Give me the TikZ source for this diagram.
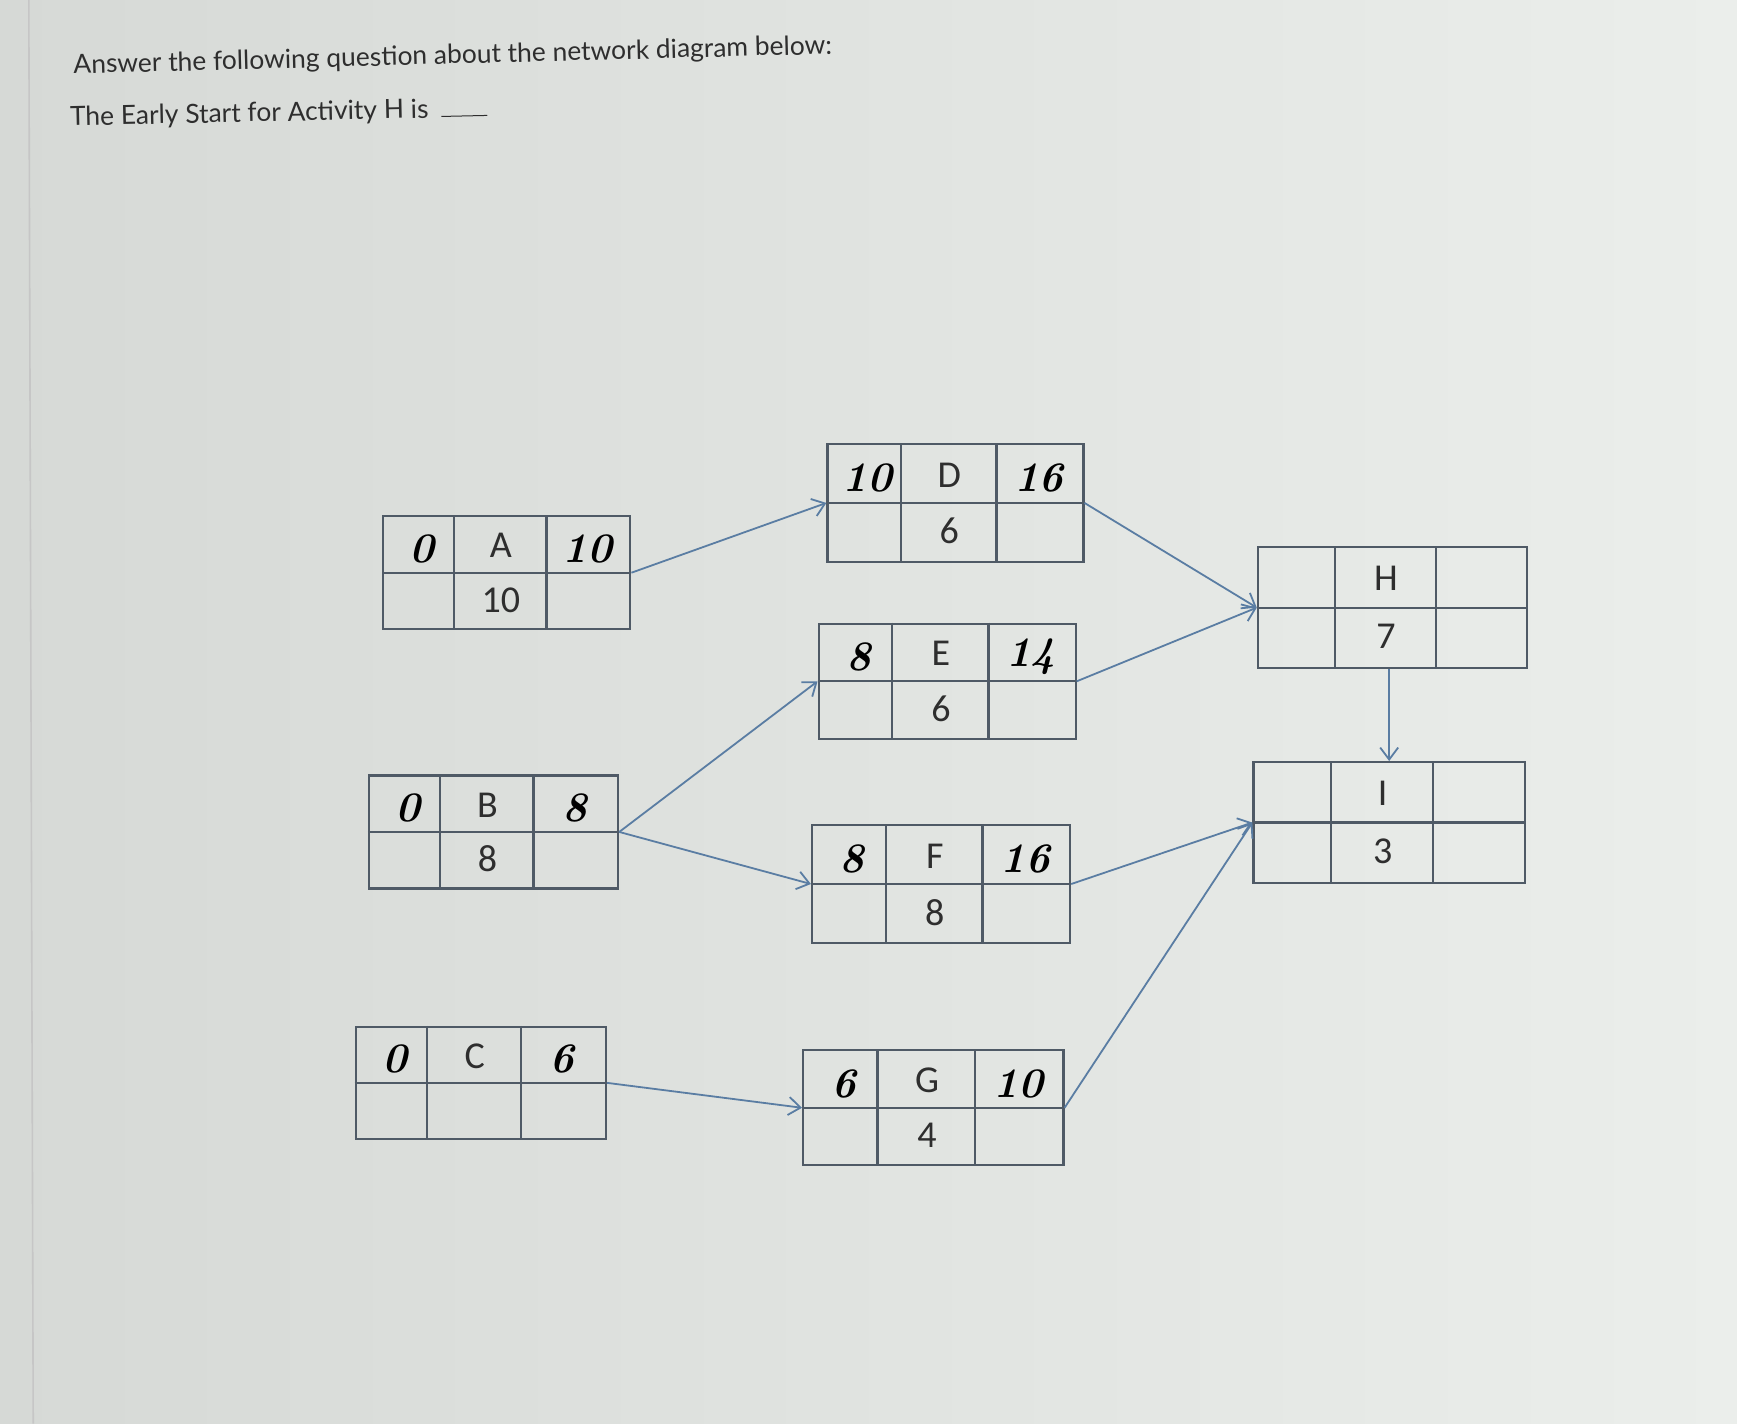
\documentclass[tikz,border=0pt]{standalone}
\usepackage{fontspec}
\newfontfamily\qfont{Lato}
\newfontfamily\bfnt{Carlito}
\usetikzlibrary{arrows.meta,calc}
\definecolor{bgL}{HTML}{D6D9D6}
\definecolor{bgR}{HTML}{EBEEEB}
\definecolor{boxc}{HTML}{4F5A66}
\definecolor{arrc}{HTML}{5A7DA3}
\definecolor{txtc}{HTML}{2E2E2E}
\tikzset{
 actnode/.style={draw=boxc, line width=1.1pt, inner sep=0pt, rectangle},
 divline/.style={draw=boxc, line width=1.1pt},
 celltext/.style={font=\bfnt\fontsize{19}{22}\selectfont, text=txtc, inner sep=0pt},
 handtext/.style={font=\normalfont\bfseries\itshape\fontsize{21}{24}\selectfont, text=black, inner sep=0pt},
 link/.style={draw=arrc, line width=0.9pt, -{Straight Barb[length=6pt,width=9pt]}},
 qtext/.style={font=\qfont\fontsize{13.2}{16}\selectfont, text=txtc, anchor=west, inner sep=0pt}
}
% #1 name, #2 cx, #3 cy, #4 w, #5 h, #6 ES, #7 letter, #8 EF, #9 duration
\newcommand\actbox[9]{%
 \node[actnode, minimum width={#4*0.554pt}, minimum height={#5*0.554pt}] (#1) at (#2,#3) {};
 \draw[divline] (#1.west) -- (#1.east);
 \draw[divline] ($(#1.north west)+(0.29*#4,0)$) -- ($(#1.south west)+(0.29*#4,0)$);
 \draw[divline] ($(#1.north west)+(0.665*#4,0)$) -- ($(#1.south west)+(0.665*#4,0)$);
 \node[handtext] (#1-es) at ($(#1.north west)+(0.16*#4,0.3*#5)$) {#6};
 \node[celltext] (#1-l) at ($(#1.north west)+(0.48*#4,0.27*#5)$) {#7};
 \node[handtext] (#1-ef) at ($(#1.north west)+(0.83*#4,0.3*#5)$) {#8};
 \node[celltext] (#1-d) at ($(#1.north west)+(0.48*#4,0.75*#5)$) {#9};
}
\begin{document}
\begin{tikzpicture}[x=0.554pt,y=-0.554pt]
\useasboundingbox (0,0) rectangle (1568,1285);
\shade[left color=bgL, right color=bgR] (0,0) rectangle (1568,1285);
\draw[gray!45, line width=0.8pt] (26,0) -- (30,1285);

\node[qtext, rotate=1.5] (q1) at (66,60) {Answer the following question about the network diagram below:};
\node[qtext, rotate=1.3] (q2) at (63,107) {The Early Start for Activity H is \hspace{3pt}\rule[0.3pt]{23pt}{0.5pt}};

\actbox{A}{457.5}{517}{223}{102}{0}{A}{10}{10}
\actbox{D}{862.5}{454}{231}{106}{10}{D}{16}{6}
\actbox{E}{855}{615}{232}{104}{8}{E}{14}{6}
\actbox{B}{445.5}{751}{225}{102}{0}{B}{8}{8}
\actbox{F}{849.5}{798}{233}{106}{8}{F}{16}{8}
\actbox{C}{434}{977.5}{226}{101}{0}{C}{6}{}
\actbox{G}{842.5}{1000}{235}{104}{6}{G}{10}{4}
\actbox{H}{1257}{548.5}{243}{109}{}{H}{}{7}
\actbox{I}{1254}{742.5}{245}{109}{}{I}{}{3}

\draw[link] (A.east) -- (D.west);
\draw[link] (B.east) -- (E.west);
\draw[link] (B.east) -- (F.west);
\draw[link] (C.east) -- (G.west);
\draw[link] (D.east) -- (H.west);
\draw[link] (E.east) -- (H.west);
\draw[link] (F.east) -- (I.west);
\draw[link] (G.east) -- (I.west);
\draw[link] (H.south -| I.north) -- (I.north);
\end{tikzpicture}
\end{document}
